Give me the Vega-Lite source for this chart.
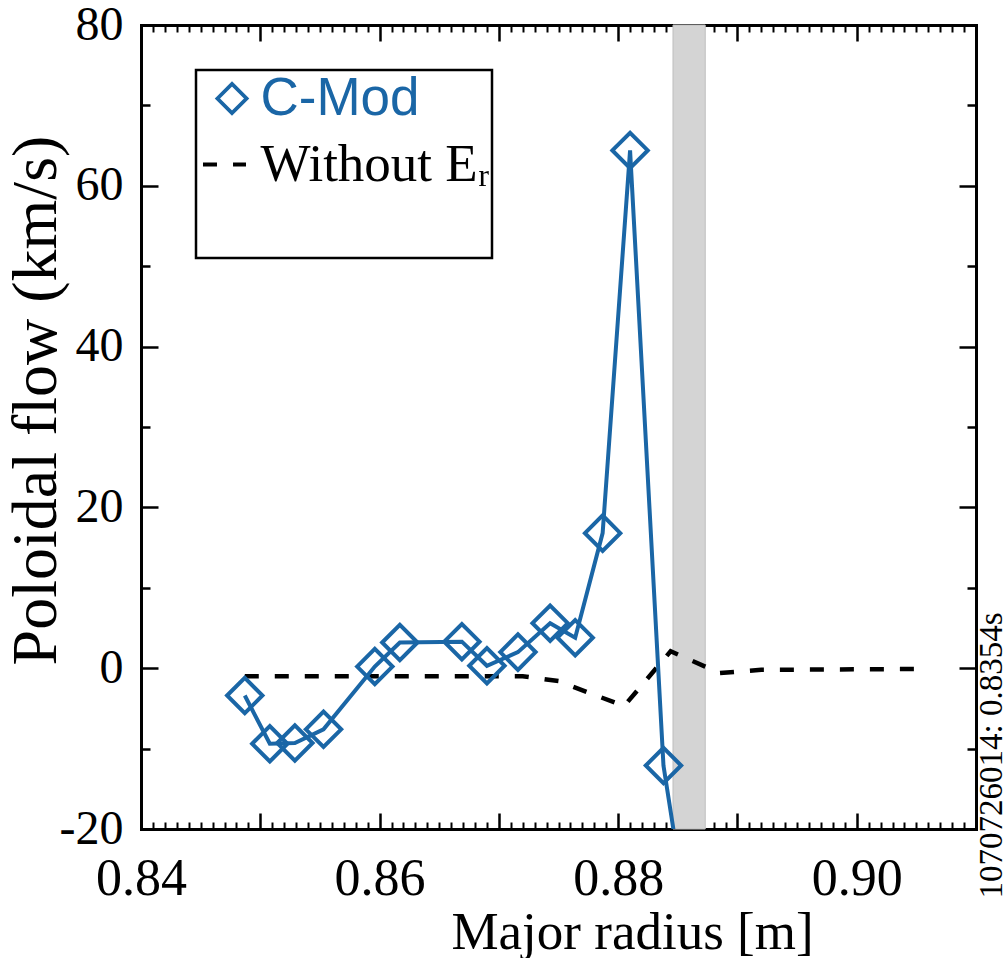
{
  "$schema": "https://vega.github.io/schema/vega-lite/v6.json",
  "width": 835,
  "height": 804,
  "autosize": {"type": "none"},
  "padding": {"left": 141, "top": 25, "right": 27, "bottom": 129},
  "background": "white",
  "config": {
    "view": {"stroke": null},
    "font": "Liberation Serif",
    "axis": {
      "grid": false,
      "domain": false,
      "labelFont": "Liberation Serif",
      "labelFontSize": 52,
      "labelColor": "black",
      "tickColor": "black",
      "tickWidth": 2.5,
      "titleFont": "Liberation Serif",
      "titleFontWeight": "normal",
      "titleColor": "black",
      "labelFlush": false,
      "labelOverlap": false,
      "zindex": 2,
      "domainColor": "black",
      "domainWidth": 3,
      "domainCap": "square"
    }
  },
  "datasets": {
    "band": [{"r_start": 0.8846, "r_end": 0.8873}],
    "noEr": [
      {"R": 0.8487, "v": -1.0, "series": "Without Eᵣ"},
      {"R": 0.8600, "v": -1.0, "series": "Without Eᵣ"},
      {"R": 0.8720, "v": -1.0, "series": "Without Eᵣ"},
      {"R": 0.8750, "v": -1.6, "series": "Without Eᵣ"},
      {"R": 0.8778, "v": -3.2, "series": "Without Eᵣ"},
      {"R": 0.8805, "v": -4.7, "series": "Without Eᵣ"},
      {"R": 0.8844, "v": 2.1, "series": "Without Eᵣ"},
      {"R": 0.8873, "v": 0.2, "series": "Without Eᵣ"},
      {"R": 0.8885, "v": -0.6, "series": "Without Eᵣ"},
      {"R": 0.8920, "v": -0.2, "series": "Without Eᵣ"},
      {"R": 0.9050, "v": -0.1, "series": "Without Eᵣ"}
    ],
    "cmod": [
      {"R": 0.8487, "v": -3.4, "series": "C-Mod"},
      {"R": 0.8508, "v": -9.4, "series": "C-Mod"},
      {"R": 0.8529, "v": -9.3, "series": "C-Mod"},
      {"R": 0.8553, "v": -7.6, "series": "C-Mod"},
      {"R": 0.8596, "v": 0.2, "series": "C-Mod"},
      {"R": 0.8617, "v": 3.2, "series": "C-Mod"},
      {"R": 0.8669, "v": 3.3, "series": "C-Mod"},
      {"R": 0.8690, "v": 0.3, "series": "C-Mod"},
      {"R": 0.8716, "v": 2.0, "series": "C-Mod"},
      {"R": 0.8743, "v": 5.6, "series": "C-Mod"},
      {"R": 0.8764, "v": 3.8, "series": "C-Mod"},
      {"R": 0.8787, "v": 16.8, "series": "C-Mod"},
      {"R": 0.8810, "v": 64.4, "series": "C-Mod"},
      {"R": 0.8838, "v": -12.1, "series": "C-Mod"},
      {"R": 0.8861, "v": -34.0, "series": "C-Mod"}
    ]
  },
  "resolve": {"axis": {"x": "independent", "y": "independent"}},
  "layer": [
    {
      "data": {"name": "band"},
      "mark": {"type": "rect", "color": "#d4d4d4", "stroke": "#bdbdbd", "strokeWidth": 1},
      "encoding": {
        "x": {
          "field": "r_start", "type": "quantitative",
          "scale": {"domain": [0.84, 0.91], "nice": false, "zero": false},
          "axis": {
            "orient": "bottom",
            "values": [0.84, 0.85, 0.86, 0.87, 0.88, 0.89, 0.90, 0.91],
            "tickSize": -16,
            "labelPadding": 40,
            "labelExpr": "round(datum.value * 100) % 2 == 0 ? format(datum.value, '.2f') : ''",
            "domain": true,
            "title": "Major radius [m]",
            "titleFont": "Liberation Serif",
            "titleFontSize": 53,
            "titleX": 491,
            "titleY": 119,
            "titleBaseline": "alphabetic",
            "titleAlign": "center"
          }
        },
        "x2": {"field": "r_end"},
        "y": {
          "datum": -20, "type": "quantitative",
          "scale": {"domain": [-20, 80], "nice": false, "zero": false},
          "axis": {
            "orient": "right",
            "values": [-10, 10, 30, 50, 70],
            "tickSize": -9,
            "labels": false,
            "domain": false,
            "title": "1070726014: 0.8354s",
            "titleFont": "Liberation Serif",
            "titleFontSize": 33,
            "titleAngle": -90,
            "titleX": 25,
            "titleY": 730,
            "titleBaseline": "alphabetic",
            "titleAlign": "center"
          }
        },
        "y2": {"datum": 80}
      }
    },
    {
      "data": {"name": "noEr"},
      "mark": {"type": "line", "color": "black", "strokeDash": [14, 16], "strokeWidth": 4.5, "clip": true},
      "encoding": {
        "x": {
          "field": "R", "type": "quantitative",
          "axis": {
            "orient": "bottom",
            "values": [0.841,0.842,0.843,0.844,0.845,0.846,0.847,0.848,0.849,0.851,0.852,0.853,0.854,0.855,0.856,0.857,0.858,0.859,0.861,0.862,0.863,0.864,0.865,0.866,0.867,0.868,0.869,0.871,0.872,0.873,0.874,0.875,0.876,0.877,0.878,0.879,0.881,0.882,0.883,0.884,0.885,0.886,0.887,0.888,0.889,0.891,0.892,0.893,0.894,0.895,0.896,0.897,0.898,0.899,0.901,0.902,0.903,0.904,0.905,0.906,0.907,0.908,0.909],
            "tickSize": -7,
            "tickWidth": 2,
            "labels": false,
            "domain": false,
            "title": null
          }
        },
        "y": {
          "field": "v", "type": "quantitative",
          "axis": {
            "orient": "left",
            "values": [-20, 0, 20, 40, 60, 80],
            "tickSize": -17,
            "labelPadding": 35,
            "labelFontSize": 48,
            "labelExpr": "datum.value < 0 ? '-' + abs(datum.value) : '' + datum.value",
            "domain": true,
            "title": "Poloidal flow (km/s)",
            "titleFont": "Liberation Serif",
            "titleFontSize": 64,
            "titleX": -86,
            "titleY": 375,
            "titleBaseline": "alphabetic",
            "titleAlign": "center"
          }
        }
      }
    },
    {
      "data": {"name": "cmod"},
      "mark": {"type": "line", "strokeWidth": 4, "clip": true},
      "encoding": {
        "x": {
          "field": "R", "type": "quantitative",
          "axis": {
            "orient": "top",
            "values": [0.84, 0.85, 0.86, 0.87, 0.88, 0.89, 0.90, 0.91],
            "tickSize": -16,
            "labels": false,
            "domain": true,
            "title": null
          }
        },
        "y": {
          "field": "v", "type": "quantitative",
          "axis": {
            "orient": "left",
            "values": [-10, 10, 30, 50, 70],
            "tickSize": -9,
            "labels": false,
            "domain": false,
            "title": null
          }
        },
        "color": {
          "field": "series", "type": "nominal",
          "scale": {"domain": ["C-Mod", "Without Eᵣ"], "range": ["#1a66a6", "black"]},
          "legend": {
            "orient": "none",
            "legendX": 55,
            "legendY": 45,
            "title": "\u00a0",
            "titleOrient": "bottom",
            "titleFont": "Liberation Serif",
            "titleFontSize": 40.5,
            "titlePadding": 23,
            "titleLimit": 1000,
            "padding": 2,
            "strokeColor": "black",
            "fillColor": "white",
            "symbolType": {"expr": "datum.value == 'C-Mod' ? 'diamond' : 'M-1.99,0H-1.03M0.07,0H0.96'"},
            "symbolSize": 850,
            "symbolStrokeWidth": 3.8,
            "symbolFillColor": "transparent",
            "labelFontSize": 53,
            "labelFont": {"expr": "datum.value == 'C-Mod' ? 'Liberation Sans' : 'Liberation Serif'"},
            "labelColor": {"expr": "datum.value == 'C-Mod' ? '#1a66a6' : 'black'"},
            "labelOffset": 2,
            "symbolOffset": 7.5,
            "rowPadding": 12,
            "labelLimit": 400,
            "encode": {"legend": {"update": {"strokeWidth": {"value": 2.5}}}}
          }
        }
      }
    },
    {
      "data": {"name": "cmod"},
      "mark": {"type": "point", "shape": "diamond", "size": 1250, "filled": false, "stroke": "#1a66a6", "strokeWidth": 4, "opacity": 1, "clip": true},
      "encoding": {
        "x": {
          "field": "R", "type": "quantitative",
          "axis": {
            "orient": "top",
            "values": [0.841,0.842,0.843,0.844,0.845,0.846,0.847,0.848,0.849,0.851,0.852,0.853,0.854,0.855,0.856,0.857,0.858,0.859,0.861,0.862,0.863,0.864,0.865,0.866,0.867,0.868,0.869,0.871,0.872,0.873,0.874,0.875,0.876,0.877,0.878,0.879,0.881,0.882,0.883,0.884,0.885,0.886,0.887,0.888,0.889,0.891,0.892,0.893,0.894,0.895,0.896,0.897,0.898,0.899,0.901,0.902,0.903,0.904,0.905,0.906,0.907,0.908,0.909],
            "tickSize": -7,
            "tickWidth": 2,
            "labels": false,
            "domain": false,
            "title": null
          }
        },
        "y": {
          "field": "v", "type": "quantitative",
          "axis": {
            "orient": "right",
            "values": [-20, 0, 20, 40, 60, 80],
            "tickSize": -17,
            "labels": false,
            "domain": true,
            "title": null
          }
        }
      }
    }
  ]
}
